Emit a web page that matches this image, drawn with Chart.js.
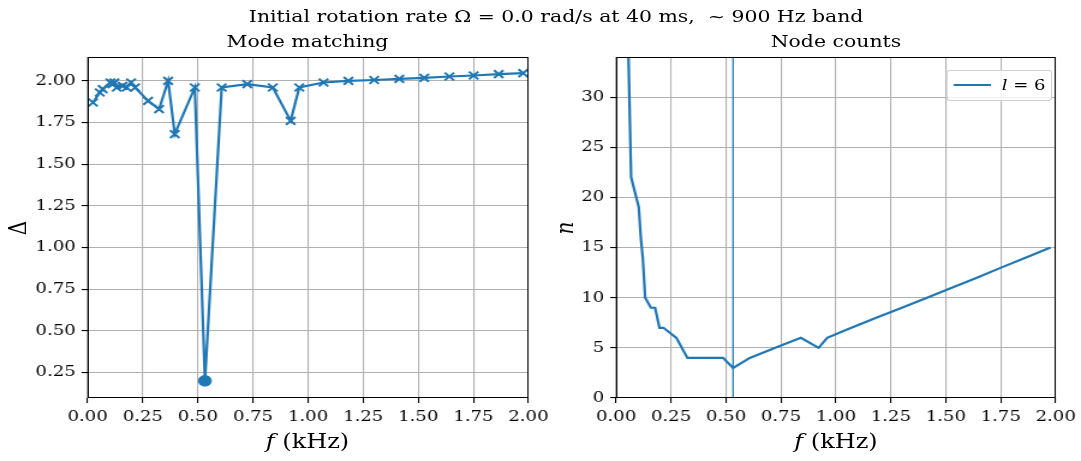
<!DOCTYPE html>
<html>
<head>
<meta charset="utf-8">
<script src="https://cdn.jsdelivr.net/npm/chart.js@4.4.1/dist/chart.umd.min.js"></script>
<style>
body { margin: 0; background: #fff; width: 1081px; height: 461px; overflow: hidden; font-family: "DejaVu Serif", serif; color: #000; }
/* figure is laid out at 900px and widened to the page width */
#fig { position: absolute; left: 0; top: 0; width: 900px; height: 461px; transform: scaleX(1.2011); transform-origin: 0 0; }
canvas { position: absolute; top: 0; }
.lbl { position: absolute; white-space: nowrap; transform: translate(-50%, -50%); }
.rot { transform: translate(-50%, -50%) rotate(-90deg); }
#legend { position: absolute; left: 788px; top: 70px; width: 88px; height: 31px; box-sizing: border-box; border: 1px solid #d0d0d0; border-radius: 3px; background: rgba(255,255,255,0.8); }
#legend .swatch { position: absolute; left: 5px; top: 13px; width: 31px; height: 2px; background: #1f77b4; }
#legend .txt { position: absolute; left: 45px; top: 5px; font-size: 15px; }
</style>
</head>
<body>
<div id="fig">
<canvas id="modeMatch" style="left:0" width="462" height="461"></canvas>
<canvas id="nodeCount" style="left:454px" width="446" height="461"></canvas>

<div class="lbl" style="left:463px; top:16px; font-size:17px">Initial rotation rate Ω = 0.0 rad/s at 40 ms, &nbsp;~ 900 Hz band</div>
<div class="lbl" style="left:256px; top:41px; font-size:17px">Mode matching</div>
<div class="lbl" style="left:696px; top:41px; font-size:17px">Node counts</div>
<div class="lbl" style="left:256px; top:441px; font-size:20px"><i>f</i> (kHz)</div>
<div class="lbl" style="left:696px; top:441px; font-size:20px"><i>f</i> (kHz)</div>
<div class="lbl rot" style="left:15px; top:228px; font-size:20px">Δ</div>
<div class="lbl rot" style="left:470px; top:228px; font-size:20px"><i>n</i></div>
<div id="legend"><div class="swatch"></div><div class="txt"><i>l</i> = 6</div></div>
</div>

<script>
// mode frequencies (kHz), mismatch and node count per mode
let freqs = [0.024, 0.055, 0.068, 0.103, 0.112, 0.121, 0.132, 0.158, 0.177, 0.197, 0.215, 0.274, 0.324, 0.365, 0.395, 0.486, 0.532, 0.608, 0.724, 0.840, 0.921, 0.960, 1.070, 1.183, 1.300, 1.414, 1.527, 1.641, 1.751, 1.865, 1.976]
let deltas = [1.87, 1.93, 1.95, 1.99, 1.98, 1.99, 1.96, 1.97, 1.96, 1.99, 1.96, 1.88, 1.83, 2.00, 1.68, 1.96, 0.20, 1.96, 1.98, 1.96, 1.76, 1.96, 1.99, 2.00, 2.005, 2.012, 2.018, 2.026, 2.032, 2.04, 2.046]
let nodes = [60, 35, 22, 19, 16, 14, 10, 9, 9, 7, 7, 6, 4, 4, 4, 4, 3, 4, 5, 6, 5, 6, 7, 8, 9, 10, 11, 12, 13, 14, 15]

// best matching mode
let bestFreq = 0.532
let bestDelta = 0.20

let freqTicks = [0, 0.25, 0.5, 0.75, 1.0, 1.25, 1.5, 1.75, 2.0]
let deltaTicks = [0.25, 0.5, 0.75, 1.0, 1.25, 1.5, 1.75, 2.0]
let nodeTicks = [0, 5, 10, 15, 20, 25, 30]

let blue = '#1f77b4'
let tickFont = { family: 'DejaVu Serif', size: 15 }

// black box around the axes
let frame = {
    id: 'frame',
    afterDraw(chart) {
        let a = chart.chartArea
        let c = chart.ctx
        c.save()
        c.strokeStyle = '#000'
        c.lineWidth = 1
        c.strokeRect(Math.round(a.left) + 0.5, Math.round(a.top) + 0.5, Math.round(a.right - a.left) - 1, Math.round(a.bottom - a.top) - 1)
        c.restore()
    }
}

function axis(min, max, ticks, size, fmt) {
    return {
        type: 'linear',
        min: min,
        max: max,
        afterBuildTicks: s => { s.ticks = ticks.map(v => ({ value: v })) },
        afterFit: s => {
            if (s.isHorizontal()) s.height = size; else s.width = size
            s.paddingLeft = s.paddingRight = s.paddingTop = s.paddingBottom = 0
        },
        grid: { color: '#b0b0b0', lineWidth: 1.1, tickColor: '#000', tickLength: 5 },
        border: { display: false },
        ticks: { font: tickFont, color: '#000', padding: 5, maxRotation: 0, autoSkip: false, callback: fmt }
    }
}

let common = {
    responsive: false,
    animation: false,
    events: [],
    plugins: { legend: { display: false }, tooltip: { enabled: false } }
}

new Chart(document.getElementById('modeMatch').getContext('2d'), {
    type: 'scatter',
    data: {
        datasets: [{
            data: [{ x: bestFreq, y: bestDelta }],
            pointStyle: 'circle',
            pointRadius: 5.3,
            backgroundColor: blue,
            borderColor: blue,
            borderWidth: 1
        }, {
            data: freqs.map((f, i) => ({ x: f, y: deltas[i] })),
            showLine: true,
            borderColor: blue,
            borderWidth: 2.2,
            pointStyle: 'crossRot',
            pointRadius: 5.5,
            pointBorderWidth: 2,
            pointBorderColor: blue
        }]
    },
    options: Object.assign({}, common, {
        layout: { padding: { top: 57, right: 22, left: 0, bottom: 0 } },
        scales: {
            x: axis(0, 2, freqTicks, 63, v => v.toFixed(2)),
            y: axis(0.097, 2.143, deltaTicks, 73, v => v.toFixed(2))
        }
    }),
    plugins: [frame]
})

new Chart(document.getElementById('nodeCount').getContext('2d'), {
    type: 'scatter',
    data: {
        datasets: [{
            data: freqs.map((f, i) => ({ x: f, y: nodes[i] })),
            showLine: true,
            borderColor: blue,
            borderWidth: 2.2,
            pointRadius: 0
        }, {
            // marks the best matching frequency
            data: [{ x: bestFreq, y: 0 }, { x: bestFreq, y: 34 }],
            showLine: true,
            borderColor: blue,
            borderWidth: 1.3,
            pointRadius: 0
        }]
    },
    options: Object.assign({}, common, {
        layout: { padding: { top: 57, right: 21, left: 0, bottom: 0 } },
        scales: {
            x: axis(0, 2, freqTicks, 63, v => v.toFixed(2)),
            y: axis(0, 34, nodeTicks, 59, v => String(v))
        }
    }),
    plugins: [frame]
})
</script>
</body>
</html>
